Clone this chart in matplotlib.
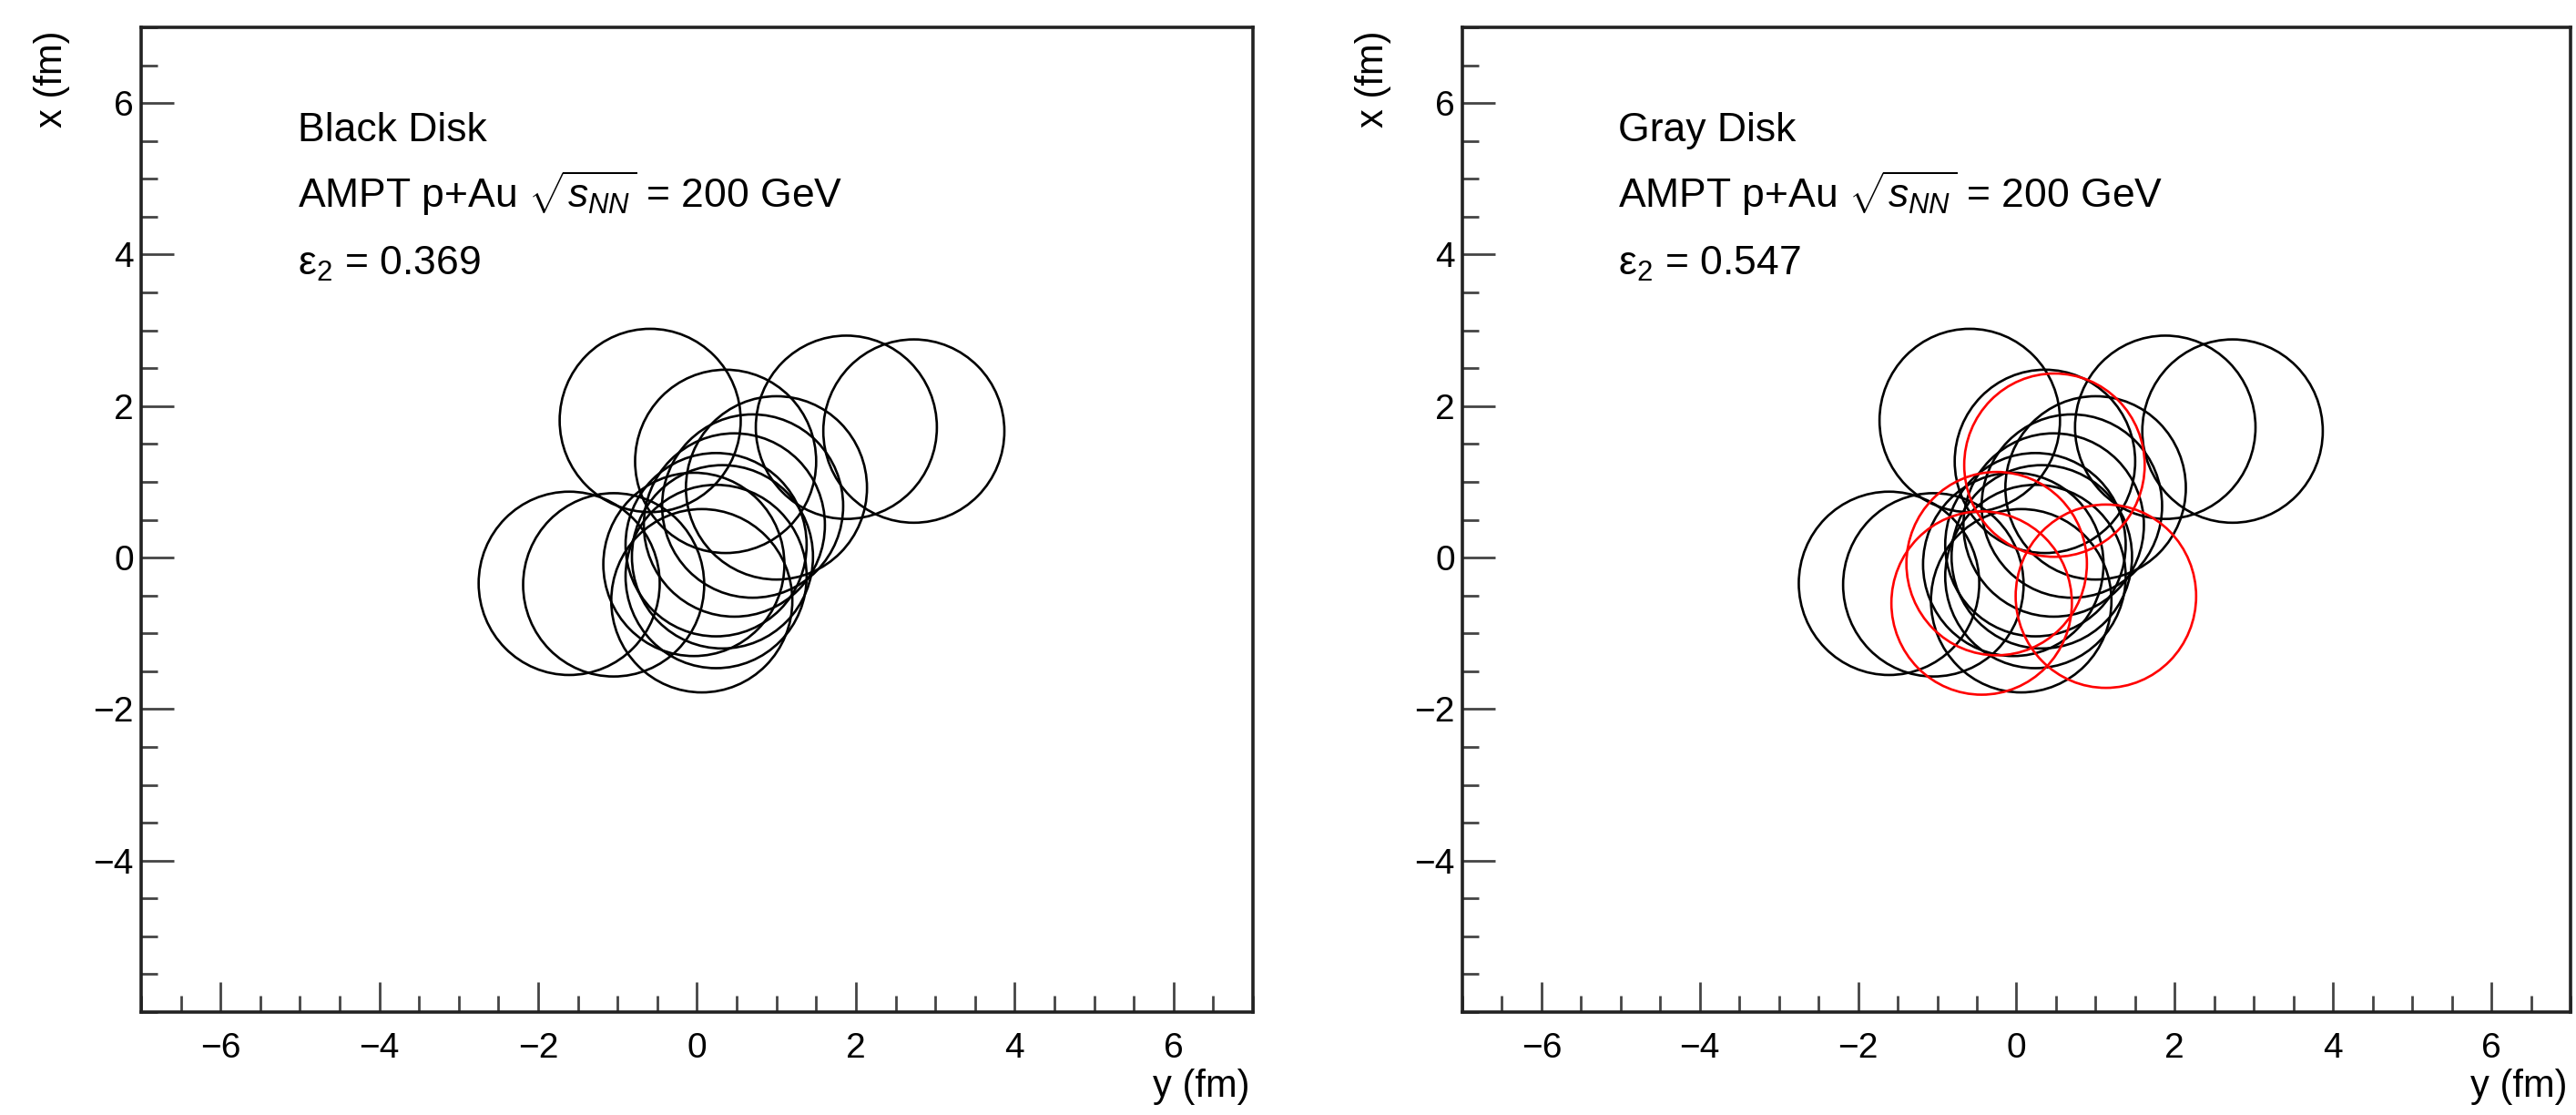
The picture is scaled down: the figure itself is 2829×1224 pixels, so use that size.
import matplotlib
matplotlib.use('Agg')
import matplotlib.pyplot as plt
from matplotlib.patches import Ellipse
from matplotlib.ticker import MultipleLocator

plt.rcParams['font.family'] = ['Liberation Sans', 'DejaVu Sans']
plt.rcParams['mathtext.fontset'] = 'custom'
plt.rcParams['mathtext.rm'] = 'Liberation Sans'
plt.rcParams['mathtext.it'] = 'Liberation Sans:italic'

# nucleon centres in fm (horizontal axis is y, vertical axis is x)
black_y = [-0.59, 2.73, 1.88, 0.36, 1.00, -1.61, -1.05, 0.06, 0.70, 0.47, 0.24, 0.32, 0.24, -0.04]
black_x = [1.81, 1.67, 1.72, 1.27, 0.92, -0.34, -0.36, -0.57, 0.68, 0.43, 0.17, 0.01, -0.25, -0.09]

# extra nucleons that only show up in the gray disk event
red_y = [0.48, -0.25, -0.44, 1.13]
red_x = [1.22, -0.08, -0.60, -0.51]

titles = ['Black Disk', 'Gray Disk']
eps2 = ['0.369', '0.547']

# disk half-widths in data units (fm)
RX, RY = 1.14, 1.21

W, H = 2829, 1224
fig = plt.figure(figsize=(W / 100, H / 100), dpi=100)
ax_left = fig.add_axes([155 / W, 113 / H, 1221 / W, 1081 / H])
ax_right = fig.add_axes([1606 / W, 113 / H, 1217 / W, 1081 / H])

for i, ax in enumerate([ax_left, ax_right]):
    ax.set_xlim(-7, 7)
    ax.set_ylim(-6, 7)

    for yy, xx in zip(black_y, black_x):
        ax.add_patch(Ellipse((yy, xx), 2 * RX, 2 * RY, fill=False,
                             edgecolor='black', linewidth=1.9))
    if i == 1:
        for yy, xx in zip(red_y, red_x):
            ax.add_patch(Ellipse((yy, xx), 2 * RX, 2 * RY, fill=False,
                                 edgecolor='red', linewidth=1.9))

    ax.xaxis.set_major_locator(MultipleLocator(2))
    ax.xaxis.set_minor_locator(MultipleLocator(0.5))
    ax.set_yticks([-4, -2, 0, 2, 4, 6])  # ROOT leaves the -6 at the corner unlabelled
    ax.yaxis.set_minor_locator(MultipleLocator(0.5))
    ax.tick_params(which='both', direction='in', top=False, right=False,
                   color='#444444', width=2, labelsize=28)
    ax.tick_params(axis='x', which='major', length=24, pad=16)
    ax.tick_params(axis='x', which='minor', length=13)
    ax.tick_params(axis='y', which='major', length=26, pad=6)
    ax.tick_params(axis='y', which='minor', length=13)
    for s in ax.spines.values():
        s.set_linewidth(2.6)
        s.set_color('#222222')

    ax.set_xlabel('y (fm)', fontsize=30, loc='right')
    ax.xaxis.set_label_coords(0.997, -0.057)
    ax.set_ylabel('x (fm)', fontsize=30, loc='top')
    ax.yaxis.set_label_coords(-0.064, 0.997)

    ax.text(-5.03, 5.5, titles[i], fontsize=32)
    ax.text(-5.03, 4.62, r'AMPT p+Au $\sqrt{s_{NN}}$ = 200 GeV', fontsize=32)
    ax.text(-5.03, 3.73, r'$\mathrm{\varepsilon}_{2}$ = ' + eps2[i], fontsize=32)

fig.savefig('out.png', dpi=100)
